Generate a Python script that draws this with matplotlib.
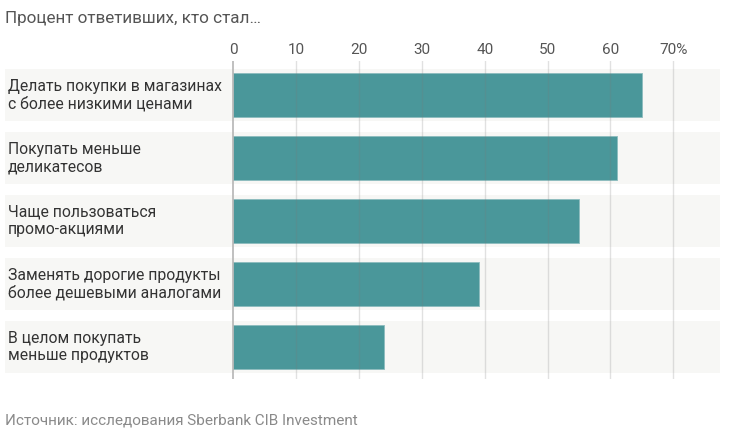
import matplotlib
matplotlib.use("Agg")
import matplotlib.pyplot as plt
import matplotlib.transforms as mtransforms

plt.rcParams["font.family"] = ["Roboto", "DejaVu Sans"]

# данные
labels = [
    "Делать покупки в магазинах\nс более низкими ценами",
    "Покупать меньше\nделикатесов",
    "Чаще пользоваться\nпромо-акциями",
    "Заменять дорогие продукты\nболее дешевыми аналогами",
    "В целом покупать\nменьше продуктов",
]
values = [65, 61, 55, 39, 24]
ticks = [0, 10, 20, 30, 40, 50, 60, 70]
tick_labels = ["0", "10", "20", "30", "40", "50", "60", "70%"]

W, H = 730, 436
fig = plt.figure(figsize=(W / 100, H / 100), dpi=100)

# оси в пикселях: x 5..720, y 61..379
ax = fig.add_axes([5 / W, (H - 379) / H, 715 / W, 318 / H])
px = 6.283  # пикселей на 1%
ax.set_xlim(-(233.5 - 5) / px, 70 + (720 - 673.3) / px)
ax.set_ylim(4 + 32 / 63, -34 / 63)

bar_color = "#4a979a"
for i, v in enumerate(values):
    ax.axhspan(i - 0.413, i + 0.413, color="#f7f7f5", zorder=0, lw=0)
ax.barh(range(len(values)), values, height=0.70, color=bar_color,
        edgecolor="#8cbcbe", linewidth=0.6, zorder=2)

for t in ticks[1:]:
    ax.axvline(t, color="#7a7a7a", lw=1.0, alpha=0.22, zorder=3)
ax.axvline(0, color="#b5b5b5", lw=1.2, zorder=4)

trans = mtransforms.blended_transform_factory(fig.transFigure, ax.transData)
for i, lab in enumerate(labels):
    ax.text(8 / W, i, lab, transform=trans, ha="left", va="center",
            fontsize=11.3, color="#333333", linespacing=1.2)

ax.xaxis.tick_top()
ax.set_xticks(ticks)
ax.set_xticklabels(tick_labels, fontsize=11, color="#555555")
ax.tick_params(axis="x", length=0, pad=3)
ax.set_yticks([])
for s in ax.spines.values():
    s.set_visible(False)

fig.text(5 / W, 1 - 18 / H, "Процент ответивших, кто стал…", ha="left",
         va="center", fontsize=12.3, color="#555555")
fig.text(5 / W, 1 - 420 / H, "Источник: исследования Sberbank CIB Investment",
         ha="left", va="center", fontsize=11, color="#8a8a8a")

fig.savefig("out.png", dpi=100)
